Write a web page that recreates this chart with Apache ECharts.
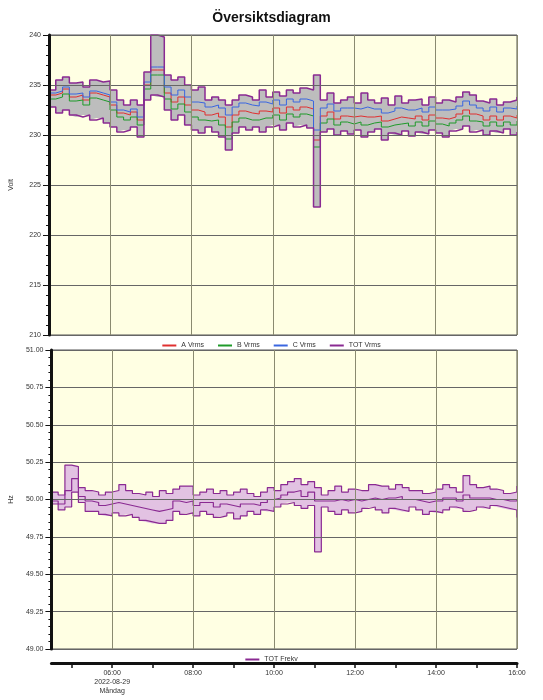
<!DOCTYPE html>
<html>
<head>
<meta charset="utf-8">
<script src="https://cdn.jsdelivr.net/npm/echarts@6/dist/echarts.min.js"></script>
<style>html,body{margin:0;padding:0;background:#fff}#main{width:543px;height:700px}</style>
</head>
<body>
<div id="main"></div>
<script>
// 10 minute samples from 04:30 to 16:00, 2022-08-29
const startTime = Date.UTC(2022, 7, 29, 4, 30);
const stepMs = 10 * 60 * 1000;

const voltMax = [234.5,235.5,235.8,235.2,235.3,234.8,235.5,235.3,235.4,234.5,233.5,233,233.5,233,236.3,240,239.8,236,235.5,235.8,235,234.5,234.8,233.5,233.8,233.5,233,233.5,234,233.8,233.5,234.5,233.8,234.3,233.9,234.5,234.2,234.7,234.5,236,233.5,234.2,233.2,233.5,233.8,233.2,234.2,233.5,233.2,233.7,233,233.9,233.2,233.5,233.6,233,233.8,233.2,233.5,233.3,233.8,234.3,234,233.4,233.2,233.6,233,233.3,233.5,233.8];
const voltMin = [232.8,232.2,232.5,232,231.8,232,231.5,231.7,231.2,230.8,230.3,230.5,230.8,229.8,233.5,234,233.8,232.5,231.5,232,231,230.5,230.2,230.8,230.3,229.8,228.5,230.2,230.8,230.5,230.8,230.3,230.8,231,230.5,231.2,230.8,231,230.7,222.8,230.3,230.6,230,230.4,230.1,230.5,229.8,230.3,230.6,229.5,230.2,230,230.4,229.9,230.3,230.1,230.5,230.2,229.8,230.4,230.6,230.9,230.3,230.5,230,230.4,230.2,230.6,230,230.3];
const voltA = [234,234.2,234.6,233.8,234,233.5,234.2,234,233.8,233,232.2,232,232.3,231.5,235,236.5,236.5,234.2,233.3,233.8,233,232.5,232.3,232,232.2,231.8,230.8,232,232.4,232.2,232.1,232.4,232.3,232.7,232.2,232.8,232.5,232.8,232.6,229.5,231.9,232.3,231.6,231.9,231.8,231.9,231.8,231.8,231.9,231.4,231.6,231.8,231.7,231.6,231.9,231.5,232,231.7,231.6,231.8,232.1,232.5,232.1,231.9,231.5,231.9,231.5,231.9,231.7,232];
const voltB = [233.6,233.8,234.1,233.4,233.5,233,233.7,233.5,233.3,232.5,231.8,231.5,231.8,231,234.6,236,236,233.6,232.6,233.1,232.3,231.8,231.5,231.4,231.5,231,229.6,231.3,231.7,231.5,231.5,231.7,231.7,232,231.5,232.1,231.8,232.1,231.9,228.8,231.2,231.6,231,231.3,231.1,231.3,231,231.2,231.3,230.8,231,231.1,231.2,230.9,231.3,230.9,231.4,231.1,230.9,231.2,231.5,231.9,231.4,231.3,230.9,231.3,230.9,231.3,231,231.4];
const voltC = [234.2,234.4,234.8,234.1,234.2,233.8,234.4,234.2,234,233.3,232.5,232.3,232.6,231.8,235.3,236.8,236.8,234.8,234,234.5,233.8,233.3,233.2,232.8,233,232.7,232,232.8,233.2,233,232.9,233.3,233.1,233.5,233,233.6,233.3,233.6,233.4,230.5,232.7,233.1,232.4,232.7,232.7,232.6,232.8,232.6,232.6,232.2,232.4,232.7,232.5,232.5,232.7,232.3,232.8,232.5,232.5,232.6,232.9,233.4,233,232.7,232.4,232.8,232.3,232.7,232.6,232.9];

const freqMax = [50.05,50.03,50.23,50.22,50.08,50.06,50.05,50.03,50.05,50.06,50.1,50.06,50.04,50.03,50.05,50.02,50.06,50.04,50.07,50.09,50.09,50.03,50.05,50.07,50.04,50.06,50.03,50.05,50.07,50.04,50.02,50.05,50.08,50.06,50.1,50.12,50.14,50.1,50.12,50.08,50.03,50.06,50.09,50.05,50.07,50.06,50.06,50.1,50.09,50.09,50.07,50.1,50.08,50.06,50.06,50.04,50.05,50.07,50.1,50.08,50.05,50.16,50.1,50.08,50.09,50.07,50.06,50.04,50.05,50.09];
const freqMin = [49.97,49.93,49.95,50.05,49.98,49.92,49.92,49.9,49.89,49.91,49.89,49.9,49.88,49.86,49.85,49.84,49.84,49.86,49.92,49.9,49.91,49.89,49.92,49.9,49.88,49.89,49.91,49.87,49.89,49.92,49.9,49.93,49.92,49.95,49.97,49.98,49.96,49.94,49.96,49.65,49.95,49.92,49.9,49.93,49.91,49.92,49.94,49.95,49.93,49.91,49.94,49.93,49.92,49.95,49.93,49.9,49.92,49.91,49.93,49.95,49.94,49.92,49.93,49.95,49.94,49.96,49.95,49.94,49.93,49.88];
const freqMean = [49.99,49.97,50.06,50.14,50.02,49.99,49.98,49.96,49.97,49.98,49.97,49.96,49.95,49.94,49.93,49.92,49.93,49.94,49.99,49.98,49.99,49.96,49.98,49.98,49.95,49.97,49.96,49.95,49.97,49.97,49.96,49.98,50,50.01,50.03,50.05,50.06,50.02,50.05,49.99,49.99,49.99,50,49.99,50,49.99,50,50.01,50,50.01,50.01,50.02,50,50,49.99,49.98,49.99,49.99,50.01,50.01,49.99,50.03,50.01,50.01,50.01,50,50,49.99,49.99,50];

// hour ticks and 2-hour grid lines / labels
const tickHours = [5, 6, 7, 8, 9, 10, 11, 12, 13, 14, 15, 16];
const labelHours = [6, 8, 10, 12, 14, 16];
const dayNames = ['Söndag','Måndag','Tisdag','Onsdag','Torsdag','Fredag','Lördag'];

const hourTs = h => Date.UTC(2022, 7, 29, h, 0);
const pts = arr => arr.map((v, i) => [startTime + i * stepMs, v]);
const diff = (hi, lo) => hi.map((v, i) => [startTime + i * stepMs, +(v - lo[i]).toFixed(3)]);

const xMin = startTime;
const xMax = Date.UTC(2022, 7, 29, 16, 0);
const purple = '#8a2a92';
const labelFont = { fontSize: 7, color: '#333', fontFamily: 'Liberation Sans' };

// hidden time axes carry the data
function dataAxis(idx) {
  return {
    type: 'time', gridIndex: idx, min: xMin, max: xMax,
    splitLine: { show: false }, axisLine: { show: false }, axisTick: { show: false }, axisLabel: { show: false }
  };
}

// value axis used only for hour ticks and labels under the lower panel
const labelAxis = {
  type: 'value', gridIndex: 1, min: xMin, max: xMax, scale: true, position: 'bottom',
  splitLine: { show: false },
  axisLine: { show: true, onZero: false, lineStyle: { color: '#111', width: 3 } },
  axisTick: { show: true, length: 5, customValues: tickHours.map(hourTs), lineStyle: { color: '#111', width: 1.5 } },
  offset: 14,
  axisLabel: {
    ...labelFont, lineHeight: 9, margin: 6, hideOverlap: false,
    customValues: labelHours.map(hourTs),
    formatter: v => {
      const d = new Date(v);
      const h = d.getUTCHours();
      const hh = (h < 10 ? '0' : '') + h + ':00';
      if (h === 6) return hh + '\n2022-08-29\n' + dayNames[d.getUTCDay()];
      return hh;
    }
  }
};

const gridLines = {
  silent: true, symbol: 'none', label: { show: false },
  lineStyle: { color: '#8a8a70', width: 1, type: 'solid' },
  data: labelHours.map(h => ({ xAxis: hourTs(h) }))
};

const hSplit = { show: true, lineStyle: { color: '#666', width: 1 } };

function yAxisBase(idx, min, max, interval, name, digits) {
  return {
    type: 'value', gridIndex: idx, min, max, interval, z: 5,
    name, nameLocation: 'middle', nameGap: 34, nameTextStyle: labelFont,
    axisLine: { show: true, lineStyle: { color: '#111', width: 3 } },
    axisTick: { show: true, length: 6, lineStyle: { color: '#111' } },
    minorTick: { show: true, splitNumber: 5, length: 3, lineStyle: { color: '#111' } },
    axisLabel: { ...labelFont, formatter: v => v.toFixed(digits) }, splitLine: hSplit
  };
}

const option = {
  useUTC: true,
  animation: false,
  backgroundColor: '#fff',
  title: { text: 'Översiktsdiagram', left: 'center', top: 6, textStyle: { fontSize: 14, fontWeight: 'bold', color: '#111', fontFamily: 'Liberation Sans' } },
  legend: [
    { top: 337, left: 'center', itemWidth: 14, itemHeight: 2, itemGap: 14, icon: 'rect', textStyle: labelFont, data: ['A Vrms', 'B Vrms', 'C Vrms', 'TOT Vrms'] },
    { top: 651, left: 'center', itemWidth: 14, itemHeight: 2, icon: 'rect', textStyle: labelFont, data: ['TOT Frekv'] }
  ],
  grid: [
    { left: 48, right: 26, top: 35, height: 300, show: true, backgroundColor: '#ffffe3', borderColor: '#555', borderWidth: 1 },
    { left: 48, right: 26, top: 350, height: 299, show: true, backgroundColor: '#ffffe3', borderColor: '#555', borderWidth: 1 }
  ],
  xAxis: [dataAxis(0), dataAxis(1), labelAxis],
  yAxis: [yAxisBase(0, 210, 240, 5, 'Volt', 0), yAxisBase(1, 49, 51, 0.25, 'Hz', 2)],
  series: [
    // voltage band
    { type: 'line', step: 'end', xAxisIndex: 0, yAxisIndex: 0, stack: 'vb', data: pts(voltMin), symbol: 'none', lineStyle: { opacity: 0 }, silent: true, markLine: gridLines },
    { type: 'line', step: 'end', xAxisIndex: 0, yAxisIndex: 0, stack: 'vb', data: diff(voltMax, voltMin), symbol: 'none', lineStyle: { opacity: 0 }, areaStyle: { color: '#bdbdbd', opacity: 1 }, silent: true },
    { name: 'A Vrms', type: 'line', step: 'end', xAxisIndex: 0, yAxisIndex: 0, data: pts(voltA), symbol: 'none', color: '#e03030', lineStyle: { width: 1 } },
    { name: 'B Vrms', type: 'line', step: 'end', xAxisIndex: 0, yAxisIndex: 0, data: pts(voltB), symbol: 'none', color: '#1f9a2a', lineStyle: { width: 1 } },
    { name: 'C Vrms', type: 'line', step: 'end', xAxisIndex: 0, yAxisIndex: 0, data: pts(voltC), symbol: 'none', color: '#3a66e0', lineStyle: { width: 1 } },
    { name: 'TOT Vrms', type: 'line', step: 'end', xAxisIndex: 0, yAxisIndex: 0, data: pts(voltMax), symbol: 'none', color: purple, lineStyle: { width: 1.5 } },
    { name: 'TOT Vrms', type: 'line', step: 'end', xAxisIndex: 0, yAxisIndex: 0, data: pts(voltMin), symbol: 'none', color: purple, lineStyle: { width: 1.5 } },
    // frequency band
    { type: 'line', step: 'end', xAxisIndex: 1, yAxisIndex: 1, stack: 'fb', data: pts(freqMin), symbol: 'none', lineStyle: { opacity: 0 }, silent: true, markLine: gridLines },
    { type: 'line', step: 'end', xAxisIndex: 1, yAxisIndex: 1, stack: 'fb', data: diff(freqMax, freqMin), symbol: 'none', lineStyle: { opacity: 0 }, areaStyle: { color: '#e2c2e2', opacity: 1 }, silent: true },
    { name: 'TOT Frekv', type: 'line', step: 'end', xAxisIndex: 1, yAxisIndex: 1, data: pts(freqMax), symbol: 'none', color: purple, lineStyle: { width: 1.2 } },
    { name: 'TOT Frekv', type: 'line', step: 'end', xAxisIndex: 1, yAxisIndex: 1, data: pts(freqMin), symbol: 'none', color: purple, lineStyle: { width: 1.2 } },
    { name: 'TOT Frekv', type: 'line', step: 'end', xAxisIndex: 1, yAxisIndex: 1, data: pts(freqMean), symbol: 'none', color: purple, lineStyle: { width: 1.2 } }
  ]
};

echarts.init(document.getElementById('main')).setOption(option);
</script>
</body>
</html>
